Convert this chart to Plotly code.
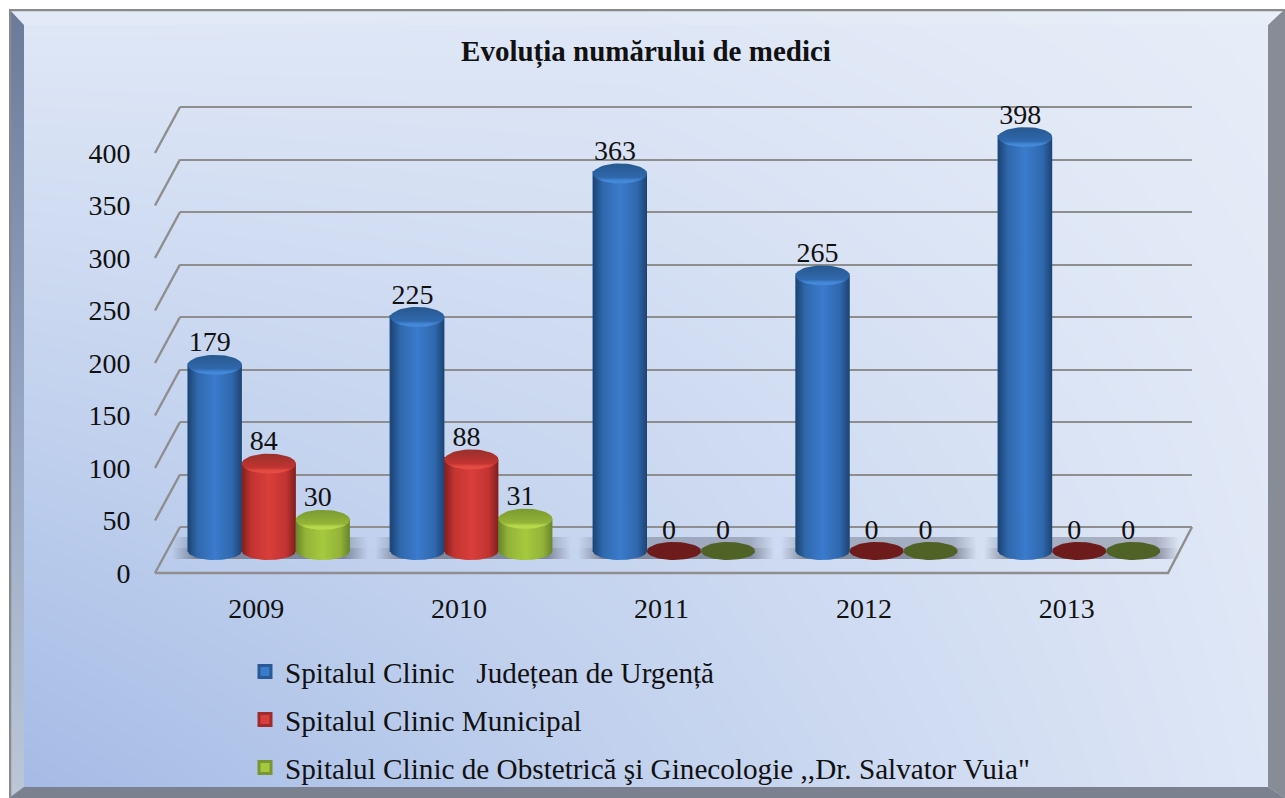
import math
import plotly.graph_objects as go

W, H = 1285, 798
YEARS = ["2009", "2010", "2011", "2012", "2013"]
SERIES_NAMES = ["Spitalul Clinic   Județean de Urgență", "Spitalul Clinic Municipal",
                "Spitalul Clinic de Obstetrică şi Ginecologie ,,Dr. Salvator Vuia\""]
JUDETEAN = [179, 225, 363, 265, 398]
MUNICIPAL = [84, 88, 0, 0, 0]
OBSTETRICA = [30, 31, 0, 0, 0]
Y_TICKS = [0, 50, 100, 150, 200, 250, 300, 350, 400]
TITLE = "Evoluția numărului de medici"
FONT = "Liberation Serif"
INK = "#111111"

SERIES = [JUDETEAN, MUNICIPAL, OBSTETRICA]
BASE = ["#2f68ad", "#c23431", "#93b338"]
EDGE = ["#1c4373", "#7f1f1e", "#67852a"]
MID = ["#3b7bcc", "#d93e3a", "#a5c93e"]
CAP_TOP = ["#28598f", "#98302b", "#7a9b2e"]
CAP_LOW = ["#4488d8", "#e34c42", "#b6da4c"]
FLAT = [None, "#6e1b1b", "#506326"]
ICON_EDGE = ["#2a5a96", "#9e2c2a", "#7a9634"]

# pixel geometry of the three planes of the pseudo-3D box
FX0, FX1, FY0 = 155, 1168, 573     # front plane
BX0, BX1, BY0 = 180, 1192, 527     # back wall
PX_PER = 1.05
MX0, MX1, MY0, MPER = 167.5, 1180.5, 551, 1.04   # plane through the cylinders
BAR_W, CAP_H, BASE_H = 54, 10, 9
BAR_LINE = 3

def dx(p): return p / W
def dy(p): return 1 - p / H

fig = go.Figure()

# ---- xy: page-pixel subplot (background, box floor, frame)
fig.add_trace(go.Heatmap(
    x=[9, 640, 1285], y=[9, 400, 798],
    z=[[.87, .85, .97], [.44, .60, .90], [0, .42, .85]],
    zmin=0, zmax=1, zsmooth="best", showscale=False, hoverinfo="skip",
    colorscale=[[0, "#a3bae5"], [1, "#e9eff9"]],
))

def poly(xs, ys, color=None, grad=None):
    kw = dict(fillgradient=grad) if grad else dict(fillcolor=color)
    fig.add_trace(go.Scatter(x=xs + xs[:1], y=ys + ys[:1], mode="lines", fill="toself",
                             line=dict(width=0), showlegend=False, hoverinfo="skip", **kw))

# shadow bands on the floor
for i in range(len(YEARS)):
    x0 = 172 + i * 203
    x1 = 368 + i * 203
    for y0, y1, a in ((537, 548, .38), (548, 559, .62)):
        poly([x0, x1, x1, x0], [y0, y0, y1, y1], grad=dict(
            type="horizontal",
            colorscale=[[0, "rgba(85,92,110,0)"], [.12, f"rgba(85,92,110,{a})"],
                        [.88, f"rgba(85,92,110,{a})"], [1, "rgba(85,92,110,0)"]]))

# oblique wall lines and floor outline
lx, ly = [], []
for t in Y_TICKS:
    yf = FY0 - t * PX_PER
    lx += [FX0, BX0, None]
    ly += [yf, yf - (FY0 - BY0), None]
lx += [FX0, FX1, BX1]
ly += [FY0, FY0, BY0]
fig.add_trace(go.Scatter(x=lx, y=ly, mode="lines", line=dict(color="#8e8e8e", width=2.4),
                         showlegend=False, hoverinfo="skip"))

# frame bevels
poly([9, 24, 24, 9], [9, 25, 787, 798], grad=dict(type="vertical",
     colorscale=[[0, "#bcc7d7"], [.5, "#95a5c4"], [1, "#6c7a99"]]))
poly([1268, 1285, 1285, 1268], [25, 9, 798, 787], color="#888c97")
poly([9, 24, 1268, 1285], [798, 787, 787, 798], color="#7c8190")
poly([9, 1285, 1268, 24], [9, 9, 25, 25], color="rgba(255,255,255,.10)")
fig.add_trace(go.Scatter(x=[10, 10, 1285], y=[798, 10, 10], mode="lines",
                         line=dict(color="#8a8a8a", width=2.5), showlegend=False, hoverinfo="skip"))

# ---- x2y2: back wall gridlines
fig.add_trace(go.Scatter(x=[0], y=[None], xaxis="x2", yaxis="y2", mode="lines",
                         showlegend=False, hoverinfo="skip"))

# ---- x3y3: cylinders
cat_w = (MX1 - MX0) / len(YEARS)
w = BAR_W / cat_w
inset = BAR_LINE / cat_w
cap_d = CAP_H / MPER
base_d = BASE_H / MPER
angles = [k * math.pi / 24 for k in range(49)]
for s, vals in enumerate(SERIES):
    off = (s - 1.5) * w + inset / 2
    fig.add_trace(go.Bar(
        x=list(range(len(YEARS))), y=vals, name=SERIES_NAMES[s], width=w - inset, offset=off,
        xaxis="x3", yaxis="y3", legendgroup=f"s{s}",
        marker=dict(color=MID[s], line=dict(color=ICON_EDGE[s], width=BAR_LINE)), hoverinfo="skip",
    ))
for s, vals in enumerate(SERIES):
    for i, v in enumerate(vals):
        cx = i + (s - 1) * w
        ex = [cx + w / 2 * math.cos(a) for a in angles]
        if v > 0:
            low_x = [x for x, a in zip(ex, angles) if a <= math.pi]
            low_y = [-base_d * math.sin(a) for a in angles if a <= math.pi]
            fig.add_trace(go.Scatter(
                x=[cx - w / 2, cx + w / 2] + low_x + [cx - w / 2],
                y=[v, v] + low_y + [v], xaxis="x3", yaxis="y3", mode="lines", fill="toself",
                line=dict(width=0), showlegend=False, hoverinfo="skip",
                fillgradient=dict(type="horizontal", colorscale=[
                    [0, EDGE[s]], [.18, BASE[s]], [.5, MID[s]], [.82, BASE[s]], [1, EDGE[s]]]),
            ))
            fig.add_trace(go.Scatter(
                x=ex, y=[v + cap_d * math.sin(a) for a in angles], xaxis="x3", yaxis="y3",
                mode="lines", fill="toself", line=dict(width=0), showlegend=False, hoverinfo="skip",
                fillgradient=dict(type="vertical", colorscale=[
                    [0, CAP_LOW[s]], [.14, CAP_LOW[s]], [.3, BASE[s]], [1, CAP_TOP[s]]]),
            ))
        else:
            fig.add_trace(go.Scatter(
                x=ex, y=[base_d * math.sin(a) for a in angles], xaxis="x3", yaxis="y3",
                mode="lines", fill="toself", fillcolor=FLAT[s], line=dict(width=0),
                showlegend=False, hoverinfo="skip"))
for s, vals in enumerate(SERIES):
    fig.add_trace(go.Scatter(
        x=[i + (s - 1) * w - 5 / cat_w for i in range(len(YEARS))],
        y=[v + (cap_d if v else base_d) - 3.5 / MPER for v in vals],
        text=[str(v) for v in vals], mode="text", textposition="top center",
        textfont=dict(family=FONT, size=28, color=INK), xaxis="x3", yaxis="y3",
        showlegend=False, hoverinfo="skip",
    ))

# ---- x4y4: front plane tick labels
fig.add_trace(go.Scatter(x=YEARS, y=[None] * len(YEARS), xaxis="x4", yaxis="y4", mode="lines",
                         showlegend=False, hoverinfo="skip"))

hidden = dict(visible=False, fixedrange=True)
fig.update_layout(
    width=W, height=H, margin=dict(l=0, r=0, t=0, b=0, autoexpand=False),
    paper_bgcolor="white", plot_bgcolor="rgba(0,0,0,0)",
    barmode="overlay", bargap=0,
    font=dict(family=FONT, color=INK),
    title=dict(text=f"<b>{TITLE}</b>", x=646 / W, xanchor="center", y=dy(51), yanchor="middle",
               font=dict(family=FONT, size=29, color=INK)),
    xaxis=dict(domain=[dx(9), 1], range=[9, W], **hidden),
    yaxis=dict(domain=[0, dy(9)], range=[H, 9], **hidden),
    xaxis2=dict(domain=[dx(BX0), dx(BX1)], range=[0, 1], anchor="y2", **hidden),
    yaxis2=dict(domain=[dy(BY0 + 5 * PX_PER), dy(BY0 - 405 * PX_PER)], range=[-5, 405], anchor="x2",
                tickvals=Y_TICKS, showgrid=True, gridcolor="#8e8e8e", gridwidth=2.4,
                zeroline=True, zerolinecolor="#8e8e8e", zerolinewidth=2.4,
                showticklabels=False, ticks="", showline=False, fixedrange=True),
    xaxis3=dict(domain=[dx(MX0), dx(MX1)], range=[-.5, 4.5], anchor="y3", **hidden),
    yaxis3=dict(domain=[dy(MY0 + 30 * MPER), dy(MY0 - 450 * MPER)], range=[-30, 450], anchor="x3", **hidden),
    xaxis4=dict(domain=[dx(FX0), dx(FX1)], type="category", categoryorder="array", categoryarray=YEARS,
                range=[-.5, 4.5], anchor="y4", showgrid=False, zeroline=False, showline=False,
                ticks="outside", ticklen=10, tickcolor="rgba(0,0,0,0)", fixedrange=True,
                tickfont=dict(family=FONT, size=28, color=INK)),
    yaxis4=dict(domain=[dy(FY0), dy(FY0 - 400 * PX_PER)], range=[0, 400], anchor="x4",
                tickvals=Y_TICKS, showgrid=False, zeroline=False, showline=False,
                ticks="outside", ticklen=18, tickcolor="rgba(0,0,0,0)", fixedrange=True,
                tickfont=dict(family=FONT, size=28, color=INK)),
    legend=dict(x=dx(245), xanchor="left", y=dy(646), yanchor="top", bgcolor="rgba(0,0,0,0)",
                font=dict(family=FONT, size=29.2, color=INK), tracegroupgap=7,
                itemclick=False, itemdoubleclick=False),
    showlegend=True,
)

fig.write_html("out.html", post_script="document.body.style.margin='0';",
               config={"displayModeBar": False})
